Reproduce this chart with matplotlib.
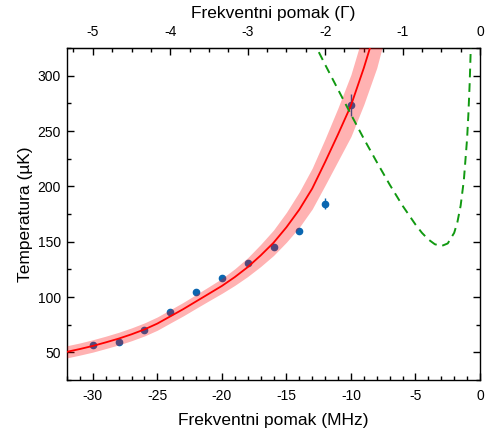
import numpy as np
import matplotlib
matplotlib.use("Agg")
import matplotlib.pyplot as plt
from matplotlib.ticker import MultipleLocator

plt.rcParams["font.family"] = ["Liberation Sans", "DejaVu Sans"]
plt.rcParams["axes.unicode_minus"] = False

# measured temperatures (MHz detuning, uK)
det_mhz = [-30, -28, -26, -24, -22, -20, -18, -16, -14, -12, -10]
temp_uk = [56.3, 59.4, 69.8, 86.4, 104.6, 117.0, 130.7, 145.0, 160.0, 184.3, 273.8]
temp_err = [1.5, 1.5, 1.5, 1.5, 1.5, 1.5, 1.5, 1.5, 1.5, 4.8, 10.0]

# fit curve and its confidence band
fit_x = [-32, -31, -30, -29, -28, -27, -26, -25, -24, -23, -22, -21, -20,
         -19, -18, -17, -16, -15, -14, -13, -12, -11, -10, -9, -8, -7.5]
fit_y = [50.5, 53, 55.8, 59, 62.4, 66.3, 70.7, 76, 82.5, 89, 96, 103, 110,
         118, 127, 137.5, 149, 163, 179, 198, 222, 247, 273, 307, 345, 370]
band_lo = [45, 47.5, 50.2, 53.4, 56.7, 60.5, 64.8, 70, 76.5, 82.9, 89.8, 96.6, 103.3,
           110.5, 118.5, 127.5, 137.5, 149.5, 163, 179.5, 201, 223, 245, 274, 307, 329]
band_hi = [56, 58.5, 61.4, 64.6, 68.1, 72.1, 76.6, 82, 88.5, 95.1, 102.2, 109.4, 116.7,
           125.5, 135.5, 147.5, 160.5, 176.5, 195, 216.5, 243, 271, 301, 340, 383, 411]

# Doppler theory curve (dashed green)
dop_x = [-13, -12, -11, -10, -9, -8, -7, -6, -5, -4.5, -4, -3.5, -3, -2.5,
         -2, -1.75, -1.5, -1.25, -1, -0.9, -0.8, -0.7]
dop_y = [333, 310, 287.5, 265, 243, 222, 201.6, 182.5, 165.5, 158, 152, 147.7,
         146, 148.4, 158, 167.7, 182.5, 205.6, 243, 265, 293, 330]

GAMMA = 6.0  # MHz per linewidth for top axis

fig = plt.figure(figsize=(4.92, 4.34), dpi=100)
ax = fig.add_axes([0.1362, 0.1244, 0.8394, 0.765])

ax.errorbar(det_mhz, temp_uk, yerr=temp_err, fmt="o", ms=4.5, color="#0a66b0",
            ecolor="#0a66b0", elinewidth=1.0, capsize=0, zorder=2)
ax.fill_between(fit_x, band_lo, band_hi, color="red", alpha=0.3, lw=0, zorder=3)
ax.plot(fit_x, fit_y, color="red", lw=1.3, zorder=4)
ax.plot(dop_x, dop_y, color="#119911", lw=1.4, ls=(0, (4.5, 3)), zorder=5)

ax.set_xlim(-32, 0)
ax.set_ylim(25, 325)
ax.xaxis.set_major_locator(MultipleLocator(5))
ax.xaxis.set_minor_locator(MultipleLocator(1))
ax.yaxis.set_major_locator(MultipleLocator(50))
ax.yaxis.set_minor_locator(MultipleLocator(25))
ax.tick_params(which="both", direction="in", top=False, right=True,
               labelsize=10, width=1.0)
ax.tick_params(which="major", length=5)
ax.tick_params(which="minor", length=3)
ax.tick_params(axis="x", pad=6.5)
ax.tick_params(axis="y", pad=4.5)
ax.set_xlabel("Frekventni pomak (MHz)", fontsize=12.5, labelpad=7)
ax.set_ylabel("Temperatura (µK)", fontsize=12.5, labelpad=3)
for sp in ax.spines.values():
    sp.set_linewidth(1.0)

top = ax.secondary_xaxis("top", functions=(lambda x: x / GAMMA, lambda g: g * GAMMA))
top.xaxis.set_major_locator(MultipleLocator(1))
top.xaxis.set_minor_locator(MultipleLocator(0.25))
top.tick_params(which="both", direction="in", labelsize=10, width=1.0, pad=6.5)
top.tick_params(which="major", length=5)
top.tick_params(which="minor", length=3)
top.set_xlabel("Frekventni pomak (Γ)", fontsize=12.5, labelpad=5)

fig.savefig("out.png", dpi=100)
